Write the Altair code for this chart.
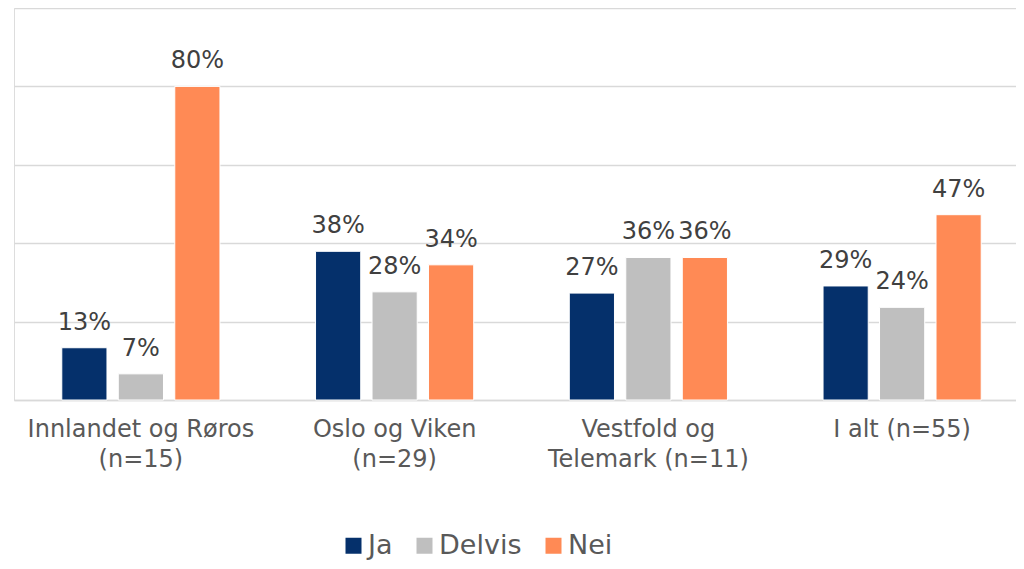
import altair as alt
import pandas as pd

categories = ["Innlandet og Røros|(n=15)", "Oslo og Viken|(n=29)",
              "Vestfold og|Telemark (n=11)", "I alt (n=55)"]
series = ["Ja", "Delvis", "Nei"]
ja = [13.33, 37.93, 27.27, 29.09]
delvis = [6.67, 27.59, 36.36, 23.64]
nei = [80.0, 34.48, 36.36, 47.27]
colors = ["#05306B", "#BFBFBF", "#FF8A55"]

rows = []
for vals, s in zip([ja, delvis, nei], series):
    for c, v in zip(categories, vals):
        rows.append({"cat": c, "serie": s, "value": v})
df = pd.DataFrame(rows)

FONT = "DejaVu Sans"

x = alt.X("cat:N", sort=categories, title=None,
          scale=alt.Scale(range=[0, 1015], paddingInner=0, paddingOuter=0),
          axis=alt.Axis(labelExpr="split(datum.label, '|')", labelAngle=0,
                        labelFontSize=24, labelColor="#595959", labelFont=FONT,
                        labelPadding=17, labelLineHeight=30, labelLimit=0, ticks=False,
                        domain=True, domainColor="#D9D9D9", domainWidth=1.5,
                        grid=False))
xo = alt.XOffset("serie:N", sort=series,
                 scale=alt.Scale(paddingInner=0.2, paddingOuter=0.846))
y = alt.Y("value:Q", title=None,
          scale=alt.Scale(domain=[0, 100], nice=False),
          axis=alt.Axis(values=[0, 20, 40, 60, 80, 100], labels=False, ticks=False,
                        domain=False, grid=True, gridColor="#D9D9D9", gridWidth=1.5))
color = alt.Color("serie:N", sort=series,
                  scale=alt.Scale(domain=series, range=colors),
                  legend=alt.Legend(title=None, orient="none", direction="horizontal",
                                    legendX=326, legendY=524, padding=0,
                                    symbolType="square",
                                    symbolSize=256, symbolStrokeWidth=0,
                                    labelFontSize=27, labelColor="#595959",
                                    labelFont=FONT, columnPadding=18, symbolOffset=0,
                                    labelOffset=1))

base = alt.Chart(df).encode(x=x, xOffset=xo, y=y)

bars = base.mark_bar(stroke="white", strokeWidth=1).encode(color=color)
labels = base.mark_text(baseline="alphabetic", dy=-18, fontSize=24,
                        font=FONT, color="#404040").encode(
    text=alt.Text("lbl:N")).transform_calculate(lbl="round(datum.value) + '%'")

chart = (bars + labels).properties(
    width=1002, height=392,
    autosize=alt.AutoSizeParams(type="none"),
    padding={"left": 6, "top": 0, "right": 0, "bottom": 161},
).configure_view(stroke=None).configure(background="white")

chart.save("out.html", embed_options={"renderer": "svg", "actions": False})
